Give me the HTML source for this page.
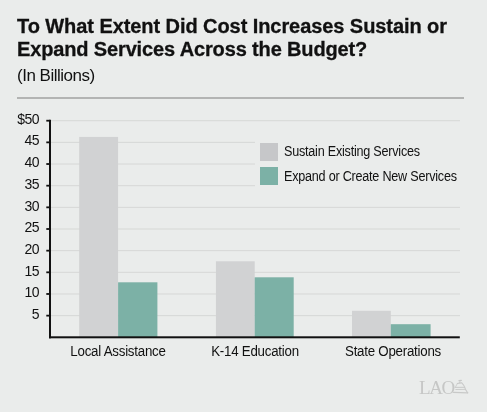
<!DOCTYPE html>
<html><head><meta charset="utf-8">
<style>
html,body{margin:0;padding:0;}
body{width:487px;height:412px;background:#eaeceb;position:relative;overflow:hidden;font-family:"Liberation Sans",sans-serif;color:#111;}
#wrap{position:absolute;left:0;top:0;width:487px;height:412px;will-change:transform;}
.abs{position:absolute;}
.title{left:17px;font-weight:bold;-webkit-text-stroke:0.3px #111;font-size:20px;line-height:23px;white-space:nowrap;color:#111;}
.sub{left:17px;top:66px;font-size:17px;line-height:20px;letter-spacing:-0.5px;white-space:nowrap;color:#111;}
.divider{left:17px;top:97px;width:447px;height:2px;background:#b3b4b3;}
.grid{left:50px;width:410px;height:1px;background:#d9dad9;}
.tick{left:46px;width:4px;height:2px;background:#111;}
.ylab{width:39px;left:0;text-align:right;font-size:14px;line-height:16px;letter-spacing:-0.5px;color:#111;}
.bar{position:absolute;}
.g{background:#d1d2d3;}
.t{background:#7cb1a6;}
.xlab{font-size:14px;line-height:16px;white-space:nowrap;text-align:center;width:160px;color:#111;letter-spacing:-0.25px;transform:scaleX(0.95);transform-origin:50% 0;}
.leg{font-size:14px;line-height:16px;white-space:nowrap;letter-spacing:-0.25px;color:#111;transform:scaleX(0.9);transform-origin:0 0;}
</style></head>
<body>
<div id="wrap">
<div class="abs title" style="top:15px;letter-spacing:-0.07px">To What Extent Did Cost Increases Sustain or</div>
<div class="abs title" style="top:38px;letter-spacing:-0.14px">Expand Services Across the Budget?</div>
<div class="abs sub">(In Billions)</div>
<div class="abs divider"></div>

<!-- chart -->
<svg class="abs" style="left:0;top:0" width="487" height="412" viewBox="0 0 487 412">
<rect x="50" y="315.14" width="410" height="1" fill="#d6d7d6"/><rect x="50" y="293.48" width="410" height="1" fill="#d6d7d6"/><rect x="50" y="271.82" width="410" height="1" fill="#d6d7d6"/><rect x="50" y="250.16" width="410" height="1" fill="#d6d7d6"/><rect x="50" y="228.50" width="410" height="1" fill="#d6d7d6"/><rect x="50" y="206.84" width="410" height="1" fill="#d6d7d6"/><rect x="50" y="185.18" width="410" height="1" fill="#d6d7d6"/><rect x="50" y="163.52" width="410" height="1" fill="#d6d7d6"/><rect x="50" y="141.86" width="410" height="1" fill="#d6d7d6"/><rect x="50" y="120.20" width="410" height="1" fill="#d6d7d6"/>
<rect x="255" y="125" width="215" height="76" fill="#eaeceb"/>
<rect x="79.2" y="136.9" width="38.9" height="200.4" fill="#d1d2d3"/><rect x="118.1" y="282.3" width="39.3" height="55.0" fill="#7cb1a6"/><rect x="215.9" y="261.3" width="38.8" height="76.0" fill="#d1d2d3"/><rect x="254.7" y="277.3" width="39.0" height="60.0" fill="#7cb1a6"/><rect x="352.0" y="310.8" width="38.8" height="26.5" fill="#d1d2d3"/><rect x="390.8" y="324.2" width="39.8" height="13.1" fill="#7cb1a6"/>
<rect x="49" y="119.8" width="2" height="218.5" fill="#111"/>
<rect x="49" y="336.3" width="410.8" height="2" fill="#111"/>
<rect x="46.3" y="314.74" width="4" height="1.8" fill="#111"/><rect x="46.3" y="293.08" width="4" height="1.8" fill="#111"/><rect x="46.3" y="271.42" width="4" height="1.8" fill="#111"/><rect x="46.3" y="249.76" width="4" height="1.8" fill="#111"/><rect x="46.3" y="228.10" width="4" height="1.8" fill="#111"/><rect x="46.3" y="206.44" width="4" height="1.8" fill="#111"/><rect x="46.3" y="184.78" width="4" height="1.8" fill="#111"/><rect x="46.3" y="163.12" width="4" height="1.8" fill="#111"/><rect x="46.3" y="141.46" width="4" height="1.8" fill="#111"/><rect x="46.3" y="119.80" width="4" height="1.8" fill="#111"/>
</svg>

<!-- y labels -->
<div class="abs ylab" style="top:111px">$50</div>
<div class="abs ylab" style="top:132px">45</div>
<div class="abs ylab" style="top:154px">40</div>
<div class="abs ylab" style="top:176px">35</div>
<div class="abs ylab" style="top:198px">30</div>
<div class="abs ylab" style="top:219px">25</div>
<div class="abs ylab" style="top:241px">20</div>
<div class="abs ylab" style="top:263px">15</div>
<div class="abs ylab" style="top:284px">10</div>
<div class="abs ylab" style="top:306px">5</div>

<!-- x labels -->
<div class="abs xlab" style="left:37.5px;top:343px">Local Assistance</div>
<div class="abs xlab" style="left:175px;top:343px">K-14 Education</div>
<div class="abs xlab" style="left:313px;top:343px">State Operations</div>

<!-- legend -->
<div class="abs" style="left:260px;top:143px;width:18px;height:17.5px;background:#c6c7c9"></div>
<div class="abs" style="left:260px;top:167px;width:18px;height:17.5px;background:#7cb1a6"></div>
<div class="abs leg" style="left:284px;top:143px">Sustain Existing Services</div>
<div class="abs leg" style="left:284px;top:168px">Expand or Create New Services</div>

<!-- LAO logo -->
<div class="abs" style="left:419px;top:376.5px;font-family:'Liberation Serif',serif;font-size:19px;line-height:22px;color:#c6c7c6;letter-spacing:-1.4px;">LAO</div>
<svg class="abs" style="left:448px;top:374px" width="26" height="24" viewBox="0 0 26 24">
<g fill="none" stroke="#c8c9c8" stroke-linecap="round">
<path d="M11.0 6.6 L13.4 6.3" stroke-width="1.2"/>
<path d="M12.0 7.2 L11.6 8.8" stroke-width="0.9"/>
<path d="M9.4 9.6 Q11.5 8.8 13.8 8.9 Q16.3 11.2 17.4 15.2 L19.6 18.8" stroke-width="1.1"/>
<path d="M9.4 9.4 L7.4 13.2" stroke-width="0.8"/>
<path d="M7.2 13.4 L16.8 13.3" stroke-width="1.0"/>
<path d="M7.8 15.5 L17.6 15.4" stroke-width="0.9"/>
<path d="M5.4 18.3 L19.8 18.8" stroke-width="1.2"/>
</g>
</svg>
</div>
</body></html>
